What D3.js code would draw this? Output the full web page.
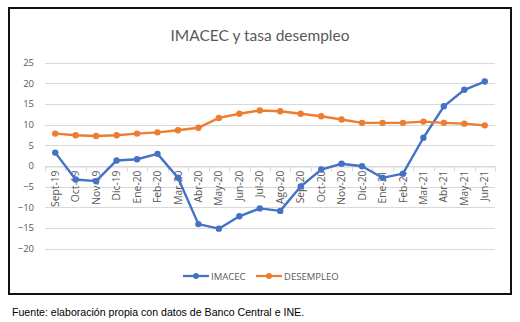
<!DOCTYPE html>
<html><head><meta charset="utf-8">
<script src="https://cdn.jsdelivr.net/npm/d3@7"></script>
<style>body{margin:0;background:#fff}svg{display:block}</style>
</head><body>
<script>
const months = ["Sept-19","Oct-19","Nov-19","Dic-19","Ene-20","Feb-20","Mar-20","Abr-20","May-20","Jun-20","Jul-20","Ago-20","Sep-20","Oct-20","Nov-20","Dic-20","Ene-21","Feb-21","Mar-21","Abr-21","May-21","Jun-21"];
const imacec = [3.2,-3.3,-3.7,1.3,1.6,2.9,-2.9,-14.1,-15.2,-12.2,-10.3,-10.9,-5.0,-0.9,0.5,-0.1,-2.9,-1.9,6.8,14.4,18.4,20.4];
const desempleo = [7.8,7.4,7.2,7.4,7.8,8.1,8.6,9.2,11.6,12.6,13.4,13.2,12.6,12.0,11.2,10.4,10.4,10.4,10.7,10.4,10.2,9.8];
const yTicks = [25,20,15,10,5,0,-5,-10,-15,-20];
const seriesNames = ["IMACEC","DESEMPLEO"];
const colors = ["#4472C4","#ED7D31"];

const W=520,H=322;
const svg=d3.select("body").append("svg").attr("width",W).attr("height",H);
svg.append("rect").attr("x",9).attr("y",8).attr("width",502).attr("height",286).attr("fill","#fff").attr("stroke","#111").attr("stroke-width",2);

svg.append("text").attr("x",260).attr("y",41).attr("text-anchor","middle")
  .attr("font-family","Lato, 'Open Sans', sans-serif").attr("font-size",15.5).attr("fill","#595959")
  .text("IMACEC y tasa desempleo");

const x=d3.scaleBand().domain(months).range([45,495]);
const y=d3.scaleLinear().domain([-20,25]).range([248.5,62.5]);

const g=svg.append("g");
g.selectAll("line.grid").data(yTicks).join("line").attr("class","grid")
  .attr("x1",45).attr("x2",495).attr("y1",d=>Math.round(y(d))+0.5).attr("y2",d=>Math.round(y(d))+0.5)
  .attr("stroke","#d9d9d9").attr("stroke-width",1);

const yAxis=g.append("g").attr("transform","translate(45,0)")
  .call(d3.axisLeft(y).tickValues(yTicks).tickSize(0).tickPadding(11));
yAxis.select(".domain").remove();
yAxis.selectAll("text").attr("font-family","'Open Sans', sans-serif").attr("font-size",9.5).attr("fill","#595959");

const y0=Math.round(y(0))+0.5;
const xa=g.append("g").attr("transform",`translate(0,${y0})`)
  .call(d3.axisBottom(x).tickSize(0).tickPadding(0));
xa.select(".domain").attr("stroke","#d9d9d9");
xa.selectAll(".tick text").attr("transform","rotate(-90)").attr("text-anchor","end")
  .attr("x",-4).attr("y",0).attr("dy","0.35em").attr("dx",0)
  .attr("font-family","'Open Sans', sans-serif").attr("font-size",10.3).attr("fill","#595959");
const bounds=months.map(m=>x(m)).concat([x(months[months.length-1])+x.bandwidth()]);
xa.selectAll("line.bt").data(bounds).join("line").attr("class","bt")
  .attr("x1",d=>Math.round(d)+0.5).attr("x2",d=>Math.round(d)+0.5).attr("y1",0).attr("y2",5)
  .attr("stroke","#d9d9d9");

const cx=m=>x(m)+x.bandwidth()/2;
[imacec,desempleo].forEach((vals,i)=>{
  const line=d3.line().x((d,j)=>cx(months[j])).y(d=>y(d));
  g.append("path").datum(vals).attr("d",line).attr("fill","none").attr("stroke",colors[i]).attr("stroke-width",2.4).attr("stroke-linejoin","round");
  g.selectAll(null).data(vals).join("circle").attr("cx",(d,j)=>cx(months[j])).attr("cy",d=>y(d)).attr("r",3.2).attr("fill",colors[i]);
});

const leg=[{x:183,name:seriesNames[0],c:colors[0]},{x:256,name:seriesNames[1],c:colors[1]}];
leg.forEach(l=>{
  svg.append("line").attr("x1",l.x).attr("x2",l.x+26).attr("y1",276).attr("y2",276).attr("stroke",l.c).attr("stroke-width",2.25);
  svg.append("circle").attr("cx",l.x+13).attr("cy",276).attr("r",3).attr("fill",l.c);
  svg.append("text").attr("x",l.x+28).attr("y",279.5).attr("font-family","'Open Sans', sans-serif").attr("font-size",9.5).attr("fill","#595959").text(l.name);
});

svg.append("text").attr("x",12).attr("y",316).attr("font-family","'Liberation Sans', Arial, sans-serif").attr("font-size",10.6).attr("fill","#000")
  .text("Fuente: elaboración propia con datos de Banco Central e INE.");
</script>
</body></html>
